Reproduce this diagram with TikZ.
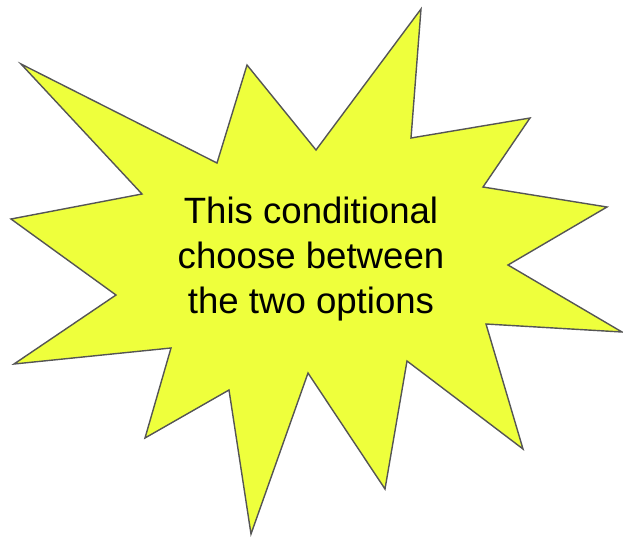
\documentclass[tikz,border=0pt]{standalone}
\usepackage{fontspec}
\setmainfont{Liberation Sans}
\usepackage{tikz}
\usetikzlibrary{positioning}
\definecolor{burstfill}{RGB}{238,255,60}
\definecolor{burstline}{RGB}{85,85,85}

\begin{document}
\begin{tikzpicture}[x=1pt, y=-1pt,
  burst/.style={draw=burstline, fill=burstfill, line width=1.4pt, line join=miter},
  note/.style={align=center, font=\fontsize{36.6}{45}\selectfont, inner sep=0pt}]
\useasboundingbox (0,0) rectangle (623,536);
\draw[burst] (21,64) -- (217,163) -- (247,65) -- (316,150) -- (421,9) -- (411,138)
  -- (530,118) -- (483,187) -- (607,207) -- (508,265) -- (622,332) -- (486,324)
  -- (523,449) -- (407,361) -- (385,489) -- (308,373) -- (251,534) -- (229,390)
  -- (145,438) -- (171,348) -- (14,364) -- (116,295) -- (11,219) -- (142,194) -- cycle;
\node[note] (msg) at (311,259) {This conditional\\choose between\\the two options};
\end{tikzpicture}
\end{document}
